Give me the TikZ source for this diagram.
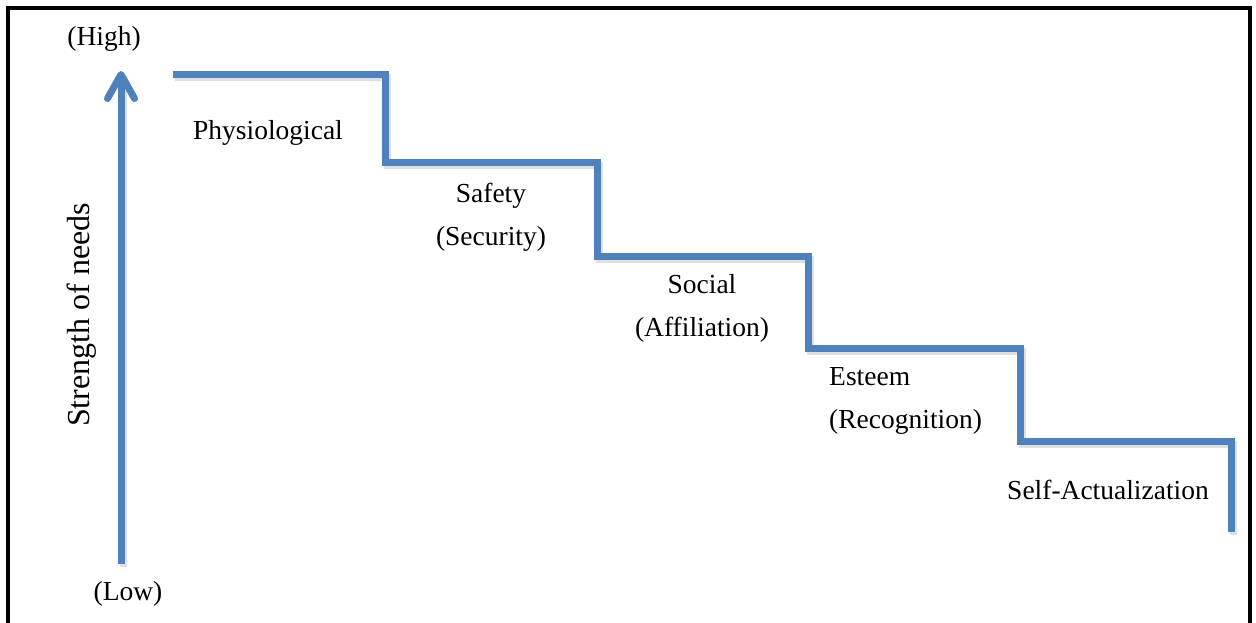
\documentclass[tikz,border=0pt]{standalone}
\usepackage{fontspec}
\setmainfont{Liberation Serif}
\usetikzlibrary{arrows.meta}
\definecolor{stairblue}{RGB}{79,129,189}
\tikzset{
  stair/.style={draw=stairblue, line width=7pt, line join=miter, line cap=butt},
  shadowline/.style={draw=black!35, line width=7pt, opacity=0.35},
  lbl/.style={inner sep=0pt, font=\fontsize{27.5}{43}\selectfont},
}
\begin{document}
\begin{tikzpicture}[x=1pt,y=-1pt]
\useasboundingbox (0,0) rectangle (1256,623);
\fill[white] (0,0) rectangle (1256,623);
% frame
\draw[line width=3.5pt, line join=miter] (8,623) -- (8,8) -- (1250,8) -- (1250,623);
% staircase coordinates
\coordinate (s0) at (173,75);
\coordinate (s1) at (385,75);
\coordinate (s2) at (385,163);
\coordinate (s3) at (597,163);
\coordinate (s4) at (597,256);
\coordinate (s5) at (808,256);
\coordinate (s6) at (808,348);
\coordinate (s7) at (1020,348);
\coordinate (s8) at (1020,441);
\coordinate (s9) at (1231,441);
\coordinate (s10) at (1231,532);
% shadow
\draw[shadowline, transform canvas={shift={(2pt,-3pt)}}] (s0) -- (s1) -- (s2) -- (s3) -- (s4) -- (s5) -- (s6) -- (s7) -- (s8) -- (s9) -- (s10);
\draw[stair] (s0) -- (s1) -- (s2) -- (s3) -- (s4) -- (s5) -- (s6) -- (s7) -- (s8) -- (s9) -- (s10);
% axis arrow
\coordinate (abot) at (121,564);
\coordinate (atop) at (121,71);
\draw[shadowline, transform canvas={shift={(2pt,-3pt)}}] (abot) -- ([yshift=-2pt]atop);
\draw[draw=stairblue, line width=7pt, -{Straight Barb[length=24pt,width=27pt,round]}] (abot) -- (atop);
% labels
\node[lbl] (high) at (104,39) {(High)};
\node[lbl] (low) at (128,594) {(Low)};
\node[lbl, rotate=90, font=\fontsize{32}{38}\selectfont] (strength) at (82,315) {Strength of needs};
\node[lbl] (phys) at (268,133) {Physiological};
\node[lbl, align=center] (safety) at (491,217) {Safety\\(Security)};
\node[lbl, align=center] (social) at (702,308) {Social\\(Affiliation)};
\node[lbl, align=left, anchor=west] (esteem) at (829,401) {Esteem\\(Recognition)};
\node[lbl] (self) at (1108,490) {Self-Actualization};
\end{tikzpicture}
\end{document}
